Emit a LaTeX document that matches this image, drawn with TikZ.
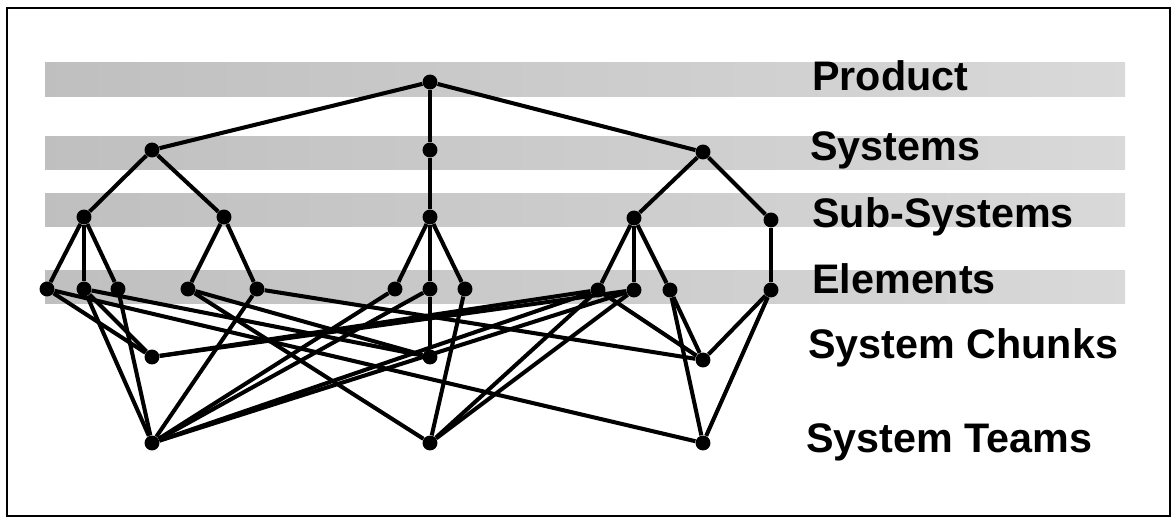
\documentclass[tikz,border=0pt]{standalone}
\usepackage{fontspec}
\setmainfont{Liberation Sans}

\tikzset{
  dot/.style={circle, fill=black, inner sep=0pt, minimum size=8.5pt},
  band/.style={left color=gray!50, middle color=gray!70, right color=gray!30, draw=none},
  level/.style={anchor=base west, font=\fontsize{23.5}{26}\selectfont\bfseries, inner sep=0pt},
  every edge/.style={draw, line width=2.3pt},
}

\begin{document}
\begin{tikzpicture}[x=0.02cm, y=-0.02cm]
\useasboundingbox (0,0) rectangle (1173,518);
\draw[line width=1.5pt] (7,8) rectangle (1170,516);

% shaded bands
\fill[band] (45,62) rectangle (1125,96);
\fill[band] (45,136) rectangle (1125,169);
\fill[band] (45,193) rectangle (1125,226);
\fill[band] (45,270) rectangle (1125,303);

% level names
\node[level](lp) at (812,90) {Product};
\node[level](ls) at (810,160) {Systems};
\node[level](lss) at (812,227) {Sub-Systems};
\node[level](le) at (812,293) {Elements};
\node[level](lc) at (808,358) {System Chunks};
\node[level](lt) at (806,452) {System Teams};

% product and systems
\node[dot](p) at (430,82) {};
\node[dot](s1) at (152,150) {};
\node[dot](s2) at (430,150) {};
\node[dot](s3) at (703,152) {};

% sub-systems
\node[dot](a1) at (84,217) {};
\node[dot](a2) at (224,217) {};
\node[dot](a3) at (430,217) {};
\node[dot](a4) at (634,218) {};
\node[dot](a5) at (771,220) {};

% elements
\node[dot](e1) at (47,289) {};
\node[dot](e2) at (84,289) {};
\node[dot](e3) at (118,289) {};
\node[dot](e4) at (188,289) {};
\node[dot](e5) at (257,289) {};
\node[dot](e6) at (395,289) {};
\node[dot](e7) at (430,289) {};
\node[dot](e8) at (465,289) {};
\node[dot](e9) at (598,290) {};
\node[dot](e10) at (634,290) {};
\node[dot](e11) at (670,290) {};
\node[dot](e12) at (771,290) {};

% chunks and teams
\node[dot](c1) at (152,357) {};
\node[dot](c2) at (430,357) {};
\node[dot](c3) at (703,360) {};
\node[dot](t1) at (152,443) {};
\node[dot](t2) at (430,443) {};
\node[dot](t3) at (703,443) {};

\path
  (p) edge (s1)
  (p) edge (s2)
  (p) edge (s3)
  (s1) edge (a1)
  (s1) edge (a2)
  (s2) edge (a3)
  (s3) edge (a4)
  (s3) edge (a5)
  (a1) edge (e1)
  (a1) edge (e2)
  (a1) edge (e3)
  (a2) edge (e4)
  (a2) edge (e5)
  (a3) edge (e6)
  (a3) edge (e7)
  (a3) edge (e8)
  (a4) edge (e9)
  (a4) edge (e10)
  (a4) edge (e11)
  (a5) edge (e12);

\path
  (e1) edge (c1)
  (e2) edge (c1)
  (e1) edge (t3)
  (e2) edge (t1)
  (e3) edge (t1)
  (e5) edge (t1)
  (e2) edge (c2)
  (e4) edge (c2)
  (e4) edge (t2)
  (e5) edge (c3)
  (e6) edge (t1)
  (e7) edge (t1)
  (e7) edge (c2)
  (e8) edge (t2)
  (e9) edge (t2)
  (e10) edge (t2)
  (e9) edge (t1)
  (e10) edge (t1)
  (c1) edge (e9)
  (c1) edge (e10)
  (e9) edge (c3)
  (e11) edge (c3)
  (e11) edge (t3)
  (e12) edge (c3)
  (e12) edge (t3);
\end{tikzpicture}
\end{document}
